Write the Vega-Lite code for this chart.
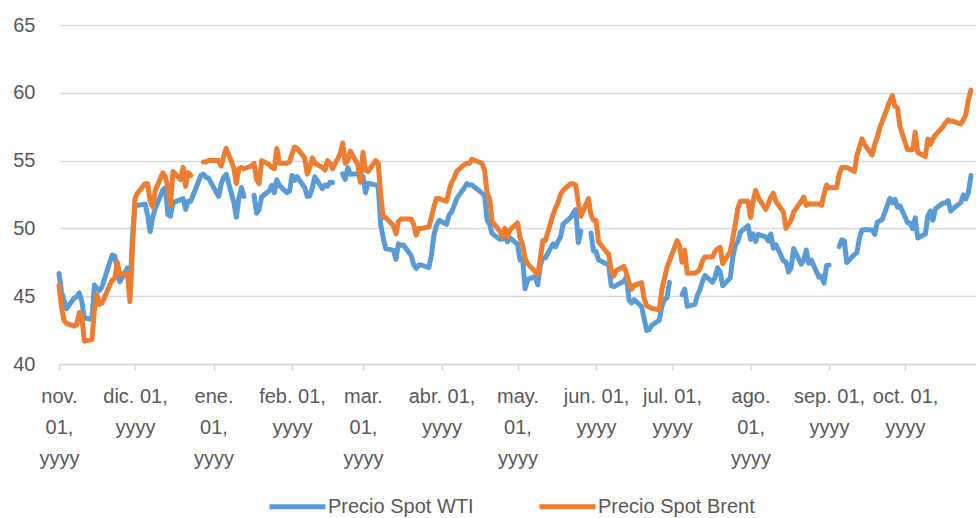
{
"$schema": "https://vega.github.io/schema/vega-lite/v6.json",
"width": 917, "height": 339,
"autosize": {"type": "none"},
"padding": {"left": 59, "top": 25, "right": 0, "bottom": 154},
"background": "white",
"config": {"view": {"stroke": null}, "font": "Liberation Sans"},
"data": {"values": [
{"d":"2016-11-01","wti":46.67,"brent":45.8},{"d":"2016-11-02","wti":45.32,"brent":44.2},{"d":"2016-11-03","wti":44.66,"brent":43.2},{"d":"2016-11-04","wti":44.07,"brent":43.0},
{"d":"2016-11-07","wti":44.88,"brent":42.8},{"d":"2016-11-08","wti":44.96,"brent":42.9},{"d":"2016-11-09","wti":45.25,"brent":43.8},{"d":"2016-11-10","wti":44.62,"brent":43.5},{"d":"2016-11-11","wti":43.39,"brent":41.7},
{"d":"2016-11-14","wti":43.30,"brent":41.8},{"d":"2016-11-15","wti":45.83,"brent":44.0},{"d":"2016-11-16","wti":45.57,"brent":45.1},{"d":"2016-11-17","wti":45.42,"brent":44.4},{"d":"2016-11-18","wti":45.69,"brent":44.5},
{"d":"2016-11-21","wti":47.49,"brent":45.8},{"d":"2016-11-22","wti":48.03,"brent":46.2},{"d":"2016-11-23","wti":47.96,"brent":46.3},{"d":"2016-11-24","brent":47.5},{"d":"2016-11-25","wti":46.06,"brent":46.6},
{"d":"2016-11-28","wti":47.08,"brent":46.7},{"d":"2016-11-29","wti":45.23,"brent":44.6},{"d":"2016-11-30","wti":49.44,"brent":48.5},{"d":"2016-12-01","wti":51.7,"brent":52.2},{"d":"2016-12-02","wti":51.7,"brent":52.6},
{"d":"2016-12-05","wti":51.79,"brent":53.3},{"d":"2016-12-06","wti":50.93,"brent":53.3},{"d":"2016-12-07","wti":49.77,"brent":52.0},{"d":"2016-12-08","wti":50.84,"brent":51.6},{"d":"2016-12-09","wti":51.46,"brent":52.8},
{"d":"2016-12-12","wti":52.83,"brent":54.1},{"d":"2016-12-13","wti":52.98,"brent":53.8},{"d":"2016-12-14","wti":51.01,"brent":53.0},{"d":"2016-12-15","wti":50.90,"brent":51.7},{"d":"2016-12-16","wti":51.90,"brent":54.2},
{"d":"2016-12-19","wti":52.12,"brent":53.6},{"d":"2016-12-20","wti":52.2,"brent":54.5},{"d":"2016-12-21","wti":51.4,"brent":53.1},{"d":"2016-12-22","wti":52.0,"brent":54.1},{"d":"2016-12-23","wti":52.0,"brent":53.9},
{"d":"2016-12-27","wti":53.9,"brent":null},{"d":"2016-12-28","wti":54.0,"brent":54.9},{"d":"2016-12-29","wti":53.77,"brent":54.9},{"d":"2016-12-30","wti":53.72,"brent":55.0},
{"d":"2017-01-03","wti":52.36,"brent":55.0},{"d":"2017-01-04","wti":53.26,"brent":54.6},{"d":"2017-01-05","wti":53.77,"brent":55.3},{"d":"2017-01-06","wti":53.98,"brent":55.9},
{"d":"2017-01-09","wti":51.95,"brent":54.5},{"d":"2017-01-10","wti":50.82,"brent":53.3},{"d":"2017-01-11","wti":52.19,"brent":54.4},{"d":"2017-01-12","wti":53.01,"brent":54.5},{"d":"2017-01-13","wti":52.36,"brent":54.4},
{"d":"2017-01-16","wti":null,"brent":54.6},{"d":"2017-01-17","wti":52.45,"brent":54.8},{"d":"2017-01-18","wti":51.12,"brent":53.6},{"d":"2017-01-19","wti":51.39,"brent":53.3},{"d":"2017-01-20","wti":52.33,"brent":55.0},
{"d":"2017-01-23","wti":52.77,"brent":54.7},{"d":"2017-01-24","wti":53.18,"brent":54.5},{"d":"2017-01-25","wti":52.63,"brent":54.4},{"d":"2017-01-26","wti":53.59,"brent":55.9},{"d":"2017-01-27","wti":53.17,"brent":54.8},
{"d":"2017-01-30","wti":52.63,"brent":54.8},{"d":"2017-01-31","wti":52.75,"brent":54.9},{"d":"2017-02-01","wti":53.90,"brent":55.5},{"d":"2017-02-02","wti":53.55,"brent":56.0},{"d":"2017-02-03","wti":53.81,"brent":55.9},
{"d":"2017-02-06","wti":53.01,"brent":55.2},{"d":"2017-02-07","wti":52.36,"brent":54.0},{"d":"2017-02-08","wti":52.40,"brent":54.5},{"d":"2017-02-09","wti":53.00,"brent":55.2},{"d":"2017-02-10","wti":53.80,"brent":54.8},
{"d":"2017-02-13","wti":52.93,"brent":54.5},{"d":"2017-02-14","wti":53.19,"brent":54.3},{"d":"2017-02-15","wti":53.11,"brent":55.0},{"d":"2017-02-16","wti":53.40,"brent":54.8},{"d":"2017-02-17","wti":53.38,"brent":54.4},
{"d":"2017-02-20","wti":null,"brent":55.5},{"d":"2017-02-21","wti":54.02,"brent":56.3},{"d":"2017-02-22","wti":53.61,"brent":54.8},{"d":"2017-02-23","wti":54.48,"brent":55.0},{"d":"2017-02-24","wti":53.99,"brent":55.7},
{"d":"2017-02-27","wti":54.04,"brent":54.7},{"d":"2017-02-28","wti":53.6,"brent":53.4},{"d":"2017-03-01","wti":53.82,"brent":55.6},{"d":"2017-03-02","wti":52.63,"brent":54.3},{"d":"2017-03-03","wti":53.33,"brent":54.2},
{"d":"2017-03-06","wti":53.19,"brent":55.0},{"d":"2017-03-07","wti":53.14,"brent":54.8},{"d":"2017-03-08","wti":50.28,"brent":52.5},{"d":"2017-03-09","wti":49.28,"brent":50.8},{"d":"2017-03-10","wti":48.49,"brent":50.8},
{"d":"2017-03-13","wti":48.40,"brent":50.2},{"d":"2017-03-14","wti":47.72,"brent":49.6},{"d":"2017-03-15","wti":48.86,"brent":50.5},{"d":"2017-03-16","wti":48.75,"brent":50.7},{"d":"2017-03-17","wti":48.78,"brent":50.7},
{"d":"2017-03-20","wti":48.0,"brent":50.7},{"d":"2017-03-21","wti":47.34,"brent":50.3},{"d":"2017-03-22","wti":47.04,"brent":49.5},{"d":"2017-03-23","wti":47.3,"brent":50.0},{"d":"2017-03-24","wti":47.3,"brent":50.0},
{"d":"2017-03-27","wti":47.1,"brent":50.1},{"d":"2017-03-28","wti":48.0,"brent":50.8},{"d":"2017-03-29","wti":49.5,"brent":51.6},{"d":"2017-03-30","wti":50.2,"brent":52.2},{"d":"2017-03-31","wti":50.6,"brent":52.2},
{"d":"2017-04-03","wti":50.3,"brent":52.0},{"d":"2017-04-04","wti":51.0,"brent":52.8},{"d":"2017-04-05","wti":51.2,"brent":53.4},{"d":"2017-04-06","wti":51.7,"brent":53.7},{"d":"2017-04-07","wti":52.2,"brent":54.2},
{"d":"2017-04-10","wti":53.0,"brent":54.7},{"d":"2017-04-11","wti":53.3,"brent":54.8},{"d":"2017-04-12","wti":53.2,"brent":54.8},{"d":"2017-04-13","wti":53.2,"brent":55.1},
{"d":"2017-04-17","wti":52.6,"brent":54.8},{"d":"2017-04-18","wti":52.4,"brent":54.3},{"d":"2017-04-19","wti":50.6,"brent":52.6},{"d":"2017-04-20","wti":50.3,"brent":52.2},{"d":"2017-04-21","wti":49.6,"brent":50.5},
{"d":"2017-04-24","wti":49.2,"brent":49.8},{"d":"2017-04-25","wti":49.2,"brent":49.4},{"d":"2017-04-26","wti":49.6,"brent":50.0},{"d":"2017-04-27","wti":49.0,"brent":49.4},{"d":"2017-04-28","wti":49.3,"brent":49.9},
{"d":"2017-05-01","wti":48.83,"brent":50.4},{"d":"2017-05-02","wti":47.65,"brent":49.3},{"d":"2017-05-03","wti":47.79,"brent":48.8},{"d":"2017-05-04","wti":45.55,"brent":47.8},{"d":"2017-05-05","wti":46.23,"brent":47.4},
{"d":"2017-05-08","wti":46.46,"brent":46.8},{"d":"2017-05-09","wti":45.84,"brent":46.6},{"d":"2017-05-10","wti":47.28,"brent":47.8},{"d":"2017-05-11","wti":47.81,"brent":49.1},{"d":"2017-05-12","wti":47.83,"brent":49.1},
{"d":"2017-05-15","wti":48.86,"brent":51.0},{"d":"2017-05-16","wti":48.64,"brent":51.5},{"d":"2017-05-17","wti":49.04,"brent":51.9},{"d":"2017-05-18","wti":49.36,"brent":52.5},{"d":"2017-05-19","wti":50.32,"brent":52.8},
{"d":"2017-05-22","wti":50.81,"brent":53.3},{"d":"2017-05-23","wti":51.14,"brent":53.3},{"d":"2017-05-24","wti":51.39,"brent":53.2},{"d":"2017-05-25","wti":48.95,"brent":51.9},{"d":"2017-05-26","wti":49.80,"brent":50.9},
{"d":"2017-05-29","wti":null,"brent":52.2},{"d":"2017-05-30","wti":49.66,"brent":51.0},{"d":"2017-05-31","wti":48.32,"brent":50.6},{"d":"2017-06-01","wti":48.31,"brent":50.6},{"d":"2017-06-02","wti":47.68,"brent":49.0},
{"d":"2017-06-05","wti":47.39,"brent":48.3},{"d":"2017-06-06","wti":47.3,"brent":48.1},{"d":"2017-06-07","wti":45.77,"brent":46.9},{"d":"2017-06-08","wti":45.70,"brent":46.5},{"d":"2017-06-09","wti":45.80,"brent":46.9},
{"d":"2017-06-12","wti":46.10,"brent":47.2},{"d":"2017-06-13","wti":46.41,"brent":46.7},{"d":"2017-06-14","wti":44.74,"brent":46.0},{"d":"2017-06-15","wti":44.51,"brent":45.5},{"d":"2017-06-16","wti":44.74,"brent":45.8},
{"d":"2017-06-19","wti":44.24,"brent":46.0},{"d":"2017-06-20","wti":43.34,"brent":44.8},{"d":"2017-06-21","wti":42.48,"brent":44.3},{"d":"2017-06-22","wti":42.53,"brent":44.2},{"d":"2017-06-23","wti":42.86,"brent":44.1},
{"d":"2017-06-26","wti":43.24,"brent":44.0},{"d":"2017-06-27","wti":44.25,"brent":45.5},{"d":"2017-06-28","wti":44.74,"brent":46.3},{"d":"2017-06-29","wti":44.88,"brent":47.1},{"d":"2017-06-30","wti":46.02,"brent":47.6},
{"d":"2017-07-03","wti":null,"brent":49.1},{"d":"2017-07-04","brent":48.7},{"d":"2017-07-05","wti":45.12,"brent":47.5},{"d":"2017-07-06","wti":45.52,"brent":48.4},{"d":"2017-07-07","wti":44.25,"brent":46.7},
{"d":"2017-07-10","wti":44.40,"brent":46.7},{"d":"2017-07-11","wti":45.06,"brent":46.8},{"d":"2017-07-12","wti":45.48,"brent":47.0},{"d":"2017-07-13","wti":46.08,"brent":47.6},{"d":"2017-07-14","wti":46.53,"brent":47.9},
{"d":"2017-07-17","wti":46.02,"brent":47.9},{"d":"2017-07-18","wti":46.40,"brent":48.3},{"d":"2017-07-19","wti":47.10,"brent":48.5},{"d":"2017-07-20","wti":46.79,"brent":48.6},{"d":"2017-07-21","wti":45.77,"brent":47.4},
{"d":"2017-07-24","wti":46.34,"brent":48.3},{"d":"2017-07-25","wti":47.89,"brent":49.3},{"d":"2017-07-26","wti":48.75,"brent":50.3},{"d":"2017-07-27","wti":49.04,"brent":51.5},{"d":"2017-07-28","wti":49.72,"brent":52.0},
{"d":"2017-07-31","wti":50.21,"brent":52.0},{"d":"2017-08-01","wti":49.19,"brent":50.8},{"d":"2017-08-02","wti":49.60,"brent":52.0},{"d":"2017-08-03","wti":49.03,"brent":52.8},{"d":"2017-08-04","wti":49.57,"brent":52.3},
{"d":"2017-08-07","wti":49.37,"brent":51.4},{"d":"2017-08-08","wti":49.07,"brent":51.8},{"d":"2017-08-09","wti":49.59,"brent":52.3},{"d":"2017-08-10","wti":48.54,"brent":52.6},{"d":"2017-08-11","wti":48.81,"brent":52.0},
{"d":"2017-08-14","wti":47.59,"brent":51.2},{"d":"2017-08-15","wti":47.55,"brent":50.0},{"d":"2017-08-16","wti":46.78,"brent":50.3},{"d":"2017-08-17","wti":47.09,"brent":50.6},{"d":"2017-08-18","wti":48.51,"brent":51.2},
{"d":"2017-08-21","wti":47.37,"brent":52.0},{"d":"2017-08-22","wti":47.64,"brent":52.3},{"d":"2017-08-23","wti":48.41,"brent":51.7},{"d":"2017-08-24","wti":47.43,"brent":51.8},{"d":"2017-08-25","wti":47.65,"brent":51.8},
{"d":"2017-08-28","wti":46.40,"brent":51.8},{"d":"2017-08-29","wti":46.46,"brent":51.7},{"d":"2017-08-30","wti":45.96,"brent":52.5},{"d":"2017-08-31","wti":47.26,"brent":53.2},{"d":"2017-09-01","wti":47.29,"brent":53.0},
{"d":"2017-09-04","wti":null,"brent":53.0},{"d":"2017-09-05","wti":48.66,"brent":54.0},{"d":"2017-09-06","wti":49.16,"brent":54.5},{"d":"2017-09-07","wti":49.09,"brent":54.5},{"d":"2017-09-08","wti":47.48,"brent":54.5},
{"d":"2017-09-11","wti":48.07,"brent":54.2},{"d":"2017-09-12","wti":48.23,"brent":55.4},{"d":"2017-09-13","wti":49.30,"brent":56.0},{"d":"2017-09-14","wti":49.89,"brent":56.6},{"d":"2017-09-15","wti":49.91,"brent":56.2},
{"d":"2017-09-18","wti":49.89,"brent":55.4},{"d":"2017-09-19","wti":49.56,"brent":56.2},{"d":"2017-09-20","wti":50.44,"brent":56.7},{"d":"2017-09-21","wti":50.55,"brent":57.4},{"d":"2017-09-22","wti":50.66,"brent":57.9},
{"d":"2017-09-25","wti":52.22,"brent":59.4},{"d":"2017-09-26","wti":51.88,"brent":59.8},{"d":"2017-09-27","wti":52.14,"brent":59.0},{"d":"2017-09-28","wti":51.56,"brent":58.9},{"d":"2017-09-29","wti":51.67,"brent":57.5},
{"d":"2017-10-02","wti":50.42,"brent":55.8},{"d":"2017-10-03","wti":50.40,"brent":55.8},{"d":"2017-10-04","wti":49.98,"brent":55.8},{"d":"2017-10-05","wti":50.79,"brent":57.1},{"d":"2017-10-06","wti":49.29,"brent":55.6},
{"d":"2017-10-09","wti":49.58,"brent":55.3},{"d":"2017-10-10","wti":50.92,"brent":56.6},{"d":"2017-10-11","wti":51.30,"brent":56.2},{"d":"2017-10-12","wti":50.60,"brent":56.6},{"d":"2017-10-13","wti":51.45,"brent":56.9},
{"d":"2017-10-16","wti":51.87,"brent":57.5},{"d":"2017-10-17","wti":51.88,"brent":57.8},{"d":"2017-10-18","wti":52.04,"brent":58.0},{"d":"2017-10-19","wti":51.29,"brent":57.9},{"d":"2017-10-20","wti":51.47,"brent":57.9},
{"d":"2017-10-23","wti":51.90,"brent":57.7},{"d":"2017-10-24","wti":52.47,"brent":58.0},{"d":"2017-10-25","wti":52.18,"brent":58.4},{"d":"2017-10-26","wti":52.64,"brent":59.5},{"d":"2017-10-27","wti":53.90,"brent":60.2}
]},
"transform": [
  {"fold": ["wti", "brent"], "as": ["series", "price"]},
  {"filter": "isDefined(datum.price)"}
],
"mark": {"type": "line", "strokeWidth": 5, "strokeCap": "round", "strokeJoin": "round", "invalid": "break-paths-show-domains"},
"encoding": {
  "x": {
    "field": "d", "type": "temporal",
    "scale": {"type": "utc", "domain": [{"year": 2016, "month": 11, "date": 1, "utc": true}, {"year": 2017, "month": 10, "date": 29, "utc": true}]},
    "axis": {
      "title": null,
      "values": [
        {"year": 2016, "month": 11, "date": 1, "utc": true},{"year": 2016, "month": 12, "date": 1, "utc": true},
        {"year": 2017, "month": 1, "date": 1, "utc": true},{"year": 2017, "month": 2, "date": 1, "utc": true},
        {"year": 2017, "month": 3, "date": 1, "utc": true},{"year": 2017, "month": 4, "date": 1, "utc": true},
        {"year": 2017, "month": 5, "date": 1, "utc": true},{"year": 2017, "month": 6, "date": 1, "utc": true},
        {"year": 2017, "month": 7, "date": 1, "utc": true},{"year": 2017, "month": 8, "date": 1, "utc": true},
        {"year": 2017, "month": 9, "date": 1, "utc": true},{"year": 2017, "month": 10, "date": 1, "utc": true}
      ],
      "labelExpr": "[['ene.','01,','yyyy'],['feb. 01,','yyyy'],['mar.','01,','yyyy'],['abr. 01,','yyyy'],['may.','01,','yyyy'],['jun. 01,','yyyy'],['jul. 01,','yyyy'],['ago.','01,','yyyy'],['sep. 01,','yyyy'],['oct. 01,','yyyy'],['nov.','01,','yyyy'],['dic. 01,','yyyy']][utcmonth(datum.value)]",
      "grid": false,
      "domainColor": "#d9d9d9", "domainWidth": 1.5,
      "tickColor": "#d9d9d9", "tickWidth": 1.5, "tickSize": 6,
      "labelFontSize": 20, "labelColor": "#595959", "labelLineHeight": 31,
      "labelPadding": 16, "labelAlign": "center", "labelBaseline": "top",
      "labelOverlap": false, "labelFlush": false, "labelBound": false
    }
  },
  "y": {
    "field": "price", "type": "quantitative",
    "scale": {"domain": [40, 65], "nice": false, "zero": false},
    "axis": {
      "title": null, "values": [40, 45, 50, 55, 60, 65],
      "domain": false, "ticks": false,
      "grid": true, "gridColor": "#d9d9d9", "gridWidth": 1.5,
      "labelFontSize": 20, "labelColor": "#595959", "labelPadding": 24
    }
  },
  "color": {
    "field": "series", "type": "nominal",
    "scale": {"domain": ["wti", "brent"], "range": ["#5B9BD5", "#ED7D31"]},
    "legend": {
      "title": null, "orient": "none", "legendX": 208, "legendY": 451,
      "direction": "horizontal",
      "symbolType": "stroke", "symbolSize": 3136, "symbolStrokeWidth": 5,
      "labelFontSize": 20, "labelColor": "#595959", "labelOffset": 0,
      "columnPadding": 55, "padding": 0,
      "labelExpr": "datum.label == 'wti' ? 'Precio Spot WTI' : 'Precio Spot Brent'"
    }
  }
}
}
